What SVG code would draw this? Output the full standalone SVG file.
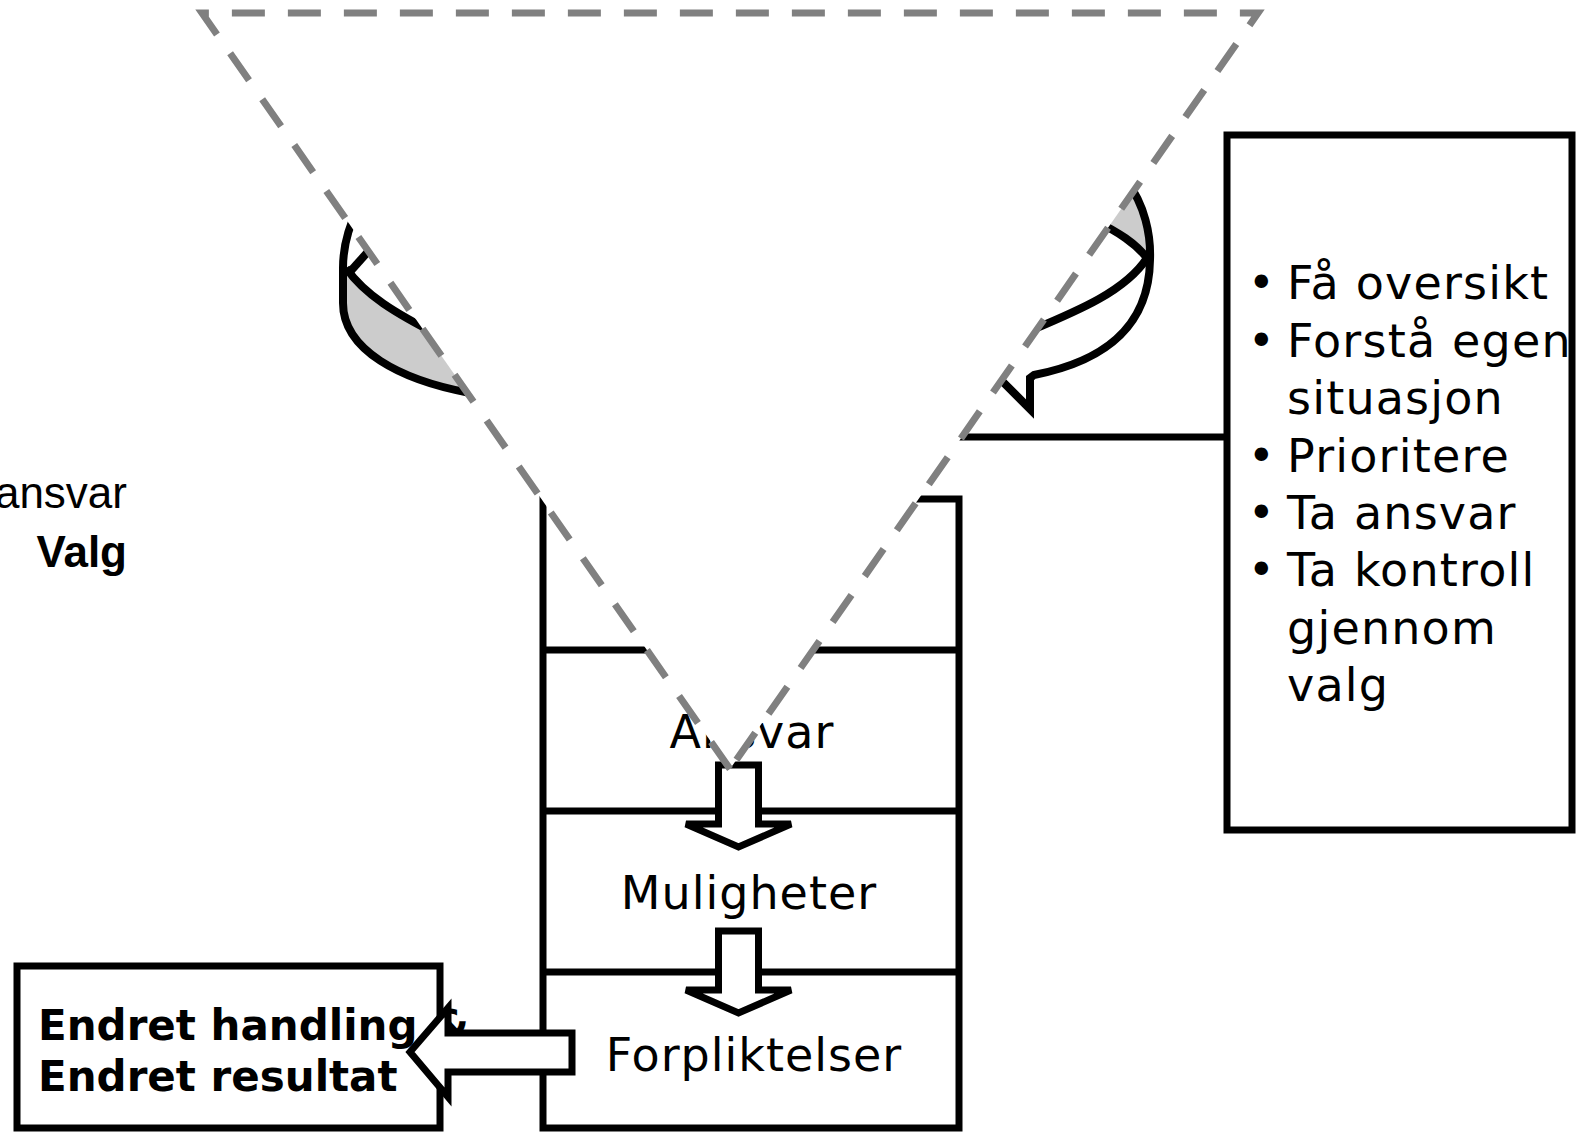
<svg xmlns="http://www.w3.org/2000/svg" width="1580" height="1134" viewBox="0 0 1580 1134">
<style>
.ln{fill:none;stroke:#000;stroke-width:7}
.cl{fill:none;stroke:#000;stroke-width:8}
.box{fill:#fff;stroke:#000;stroke-width:7}
.arr{fill:#fff;stroke:#000;stroke-width:7;stroke-linejoin:miter}
.gray{fill:#cccccc;stroke:none}
.t{font-family:"DejaVu Sans",Verdana,sans-serif;font-size:46px;fill:#000;letter-spacing:1.2px}
.tm{font-family:"DejaVu Sans",Verdana,sans-serif;font-size:46px;fill:#000;letter-spacing:1px}
.tb{font-family:"DejaVu Sans",Verdana,sans-serif;font-size:42px;font-weight:bold;fill:#000}
.ta{font-family:"Liberation Sans",Arial,sans-serif;font-size:44px;fill:#000}
.dash{fill:#fff;stroke:#808080;stroke-width:7;stroke-dasharray:33 23}
</style>
<rect width="1580" height="1134" fill="#fff"/>

<g id="left-label">
<text class="ta" x="127" y="508" text-anchor="end">ansvar</text>
<text class="ta" x="127" y="567" text-anchor="end" font-weight="bold">Valg</text>
</g>

<g id="stack">
<rect class="ln" x="543" y="499" width="416" height="629"/>
<line class="ln" x1="543" y1="650" x2="959" y2="650"/>
<line class="ln" x1="543" y1="811" x2="959" y2="811"/>
<line class="ln" x1="543" y1="972" x2="959" y2="972"/>
<text class="tm" x="752" y="748" text-anchor="middle">Ansvar</text>
<text class="tm" x="749" y="909" text-anchor="middle">Muligheter</text>
<text class="tm" x="754" y="1071" text-anchor="middle">Forpliktelser</text>
</g>

<g id="curl-left">
<path class="gray" d="M346,270 C365,295 395,313 440,335 L485,405 L468,392 C400,380 343,350 343,303 Z"/>
<path class="cl" d="M358,208 C347,230 343,250 343,268 L343,303 C343,350 400,380 470,393"/>
<path class="cl" d="M346,268 C365,295 395,313 440,336"/>
<path class="cl" d="M348,274 L382,236"/>
</g>

<g id="curl-right">
<path class="gray" d="M1096,220 C1120,233 1135,243 1146,258 C1151,235 1145,205 1126,180 L1090,180 Z"/>
<path class="cl" d="M1126,180 C1145,205 1151,235 1150,260 C1149,330 1100,362 1034,375 L1030,378 L1030,409 L975,354" stroke-linejoin="miter"/>
<path class="cl" d="M1025,333 C1075,312 1125,292 1147,258"/>
<path class="cl" d="M1147,258 C1135,243 1120,233 1092,219"/>
</g>

<g id="connectors">
<line class="ln" x1="930" y1="437" x2="1227" y2="437"/>
</g>

<g id="right-box">
<rect class="box" x="1227" y="135" width="345" height="695"/>
<g class="t" text-anchor="middle">
<text x="1262" y="299">•</text>
<text x="1262" y="357">•</text>
<text x="1262" y="472">•</text>
<text x="1262" y="529">•</text>
<text x="1262" y="586">•</text>
</g>
<text class="t" x="1287" y="299">Få oversikt</text>
<text class="t" x="1287" y="357">Forstå egen</text>
<text class="t" x="1287" y="414">situasjon</text>
<text class="t" x="1287" y="472">Prioritere</text>
<text class="t" x="1287" y="529">Ta ansvar</text>
<text class="t" x="1287" y="586">Ta kontroll</text>
<text class="t" x="1287" y="644">gjennom</text>
<text class="t" x="1287" y="701">valg</text>
</g>

<g id="left-box">
<rect class="box" x="17" y="966" width="423" height="162"/>
<text class="tb" x="38" y="1040">Endret handling &amp;</text>
<text class="tb" x="38" y="1091">Endret resultat</text>
</g>

<g id="arrows">
<path class="arr" d="M718.5,765 L758.5,765 L758.5,824 L791,824 L738.5,847 L686,824 L718.5,824 Z"/>
<path class="arr" d="M718.5,931 L758.5,931 L758.5,990 L791,990 L738.5,1013 L686,990 L718.5,990 Z"/>
<path class="arr" d="M410,1052 L448,1008 L448,1033 L572,1033 L572,1072 L448,1072 L448,1097 Z"/>
</g>

<g id="triangle">
<path class="dash" d="M730,769 L202,13 L1258,13 Z"/>
</g>
</svg>
